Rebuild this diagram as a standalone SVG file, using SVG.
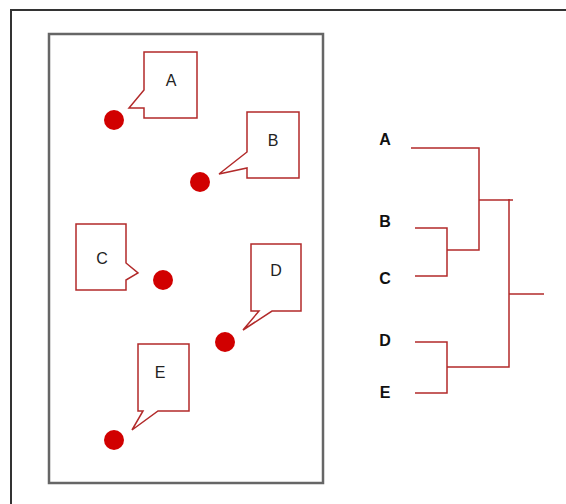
<svg xmlns="http://www.w3.org/2000/svg" width="566" height="504" viewBox="0 0 566 504">
<style>
.frame{fill:none;stroke:#333;stroke-width:2}
.panel{fill:#fff;stroke:#666;stroke-width:2.5}
.call{fill:#fff;stroke:#b22a2a;stroke-width:1.5;stroke-linejoin:miter}
.dot{fill:#d10000}
.lbl{font-family:"Liberation Sans",Arial,sans-serif;font-size:16px;fill:#222;text-anchor:middle;dominant-baseline:central}
.dl{font-family:"Liberation Sans",Arial,sans-serif;font-size:16px;font-weight:bold;fill:#111;text-anchor:middle;dominant-baseline:central}
.tree{fill:none;stroke:#b22a2a;stroke-width:1.5}
</style>
<rect width="566" height="504" fill="#fff"/>
<rect class="frame" x="11" y="10" width="600" height="520"/>
<rect class="panel" x="49" y="34" width="274" height="449"/>
<g id="nodeA">
<path class="call" d="M144,52 H197 V118 H144 V108 H129 L144,90 Z"/>
<text class="lbl" x="171" y="80">A</text>
<circle class="dot" cx="114" cy="120" r="10"/>
</g>
<g id="nodeB">
<path class="call" d="M247,112 H299 V178 H247 V168 L219,174 L247,152 Z"/>
<text class="lbl" x="273" y="140">B</text>
<circle class="dot" cx="200" cy="182" r="10"/>
</g>
<g id="nodeC">
<path class="call" d="M76,224 H126 V263 L138,273 L126,280 V290 H76 Z"/>
<text class="lbl" x="102" y="258">C</text>
<circle class="dot" cx="163" cy="280" r="10"/>
</g>
<g id="nodeD">
<path class="call" d="M251,244 H301 V311 H272 L243,330 L259,311 H251 Z"/>
<text class="lbl" x="276" y="270">D</text>
<circle class="dot" cx="225" cy="342" r="10"/>
</g>
<g id="nodeE">
<path class="call" d="M138,344 H189 V411 H158 L132,430 L143,411 H138 Z"/>
<text class="lbl" x="160" y="372">E</text>
<circle class="dot" cx="114" cy="440" r="10"/>
</g>
<g id="labelA"><text class="dl" x="385" y="139">A</text></g>
<g id="labelB"><text class="dl" x="385" y="221">B</text></g>
<g id="labelC"><text class="dl" x="385" y="278">C</text></g>
<g id="labelD"><text class="dl" x="385" y="340">D</text></g>
<g id="labelE"><text class="dl" x="385" y="392">E</text></g>
<g id="connectors">
<path class="tree" d="M411,148 H479 V250 H447"/>
<path class="tree" d="M415,228 H447 V276 H415"/>
<path class="tree" d="M479,200 H513"/>
<path class="tree" d="M509,199 V367 H447"/>
<path class="tree" d="M415,342 H447 V393 H415"/>
<path class="tree" d="M509,294 H544"/>
</g>
</svg>
